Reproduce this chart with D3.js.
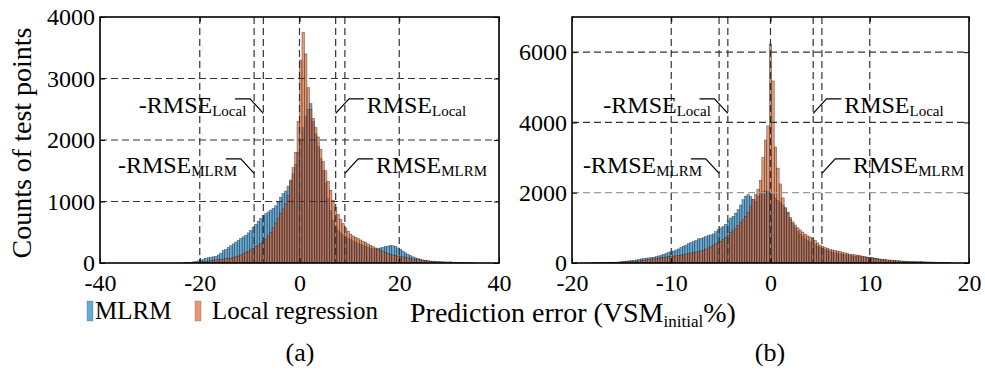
<!DOCTYPE html>
<html><head><meta charset="utf-8">
<script src="https://cdn.jsdelivr.net/npm/d3@7"></script>
<style>
body{margin:0;background:#fff;}
svg{display:block;}
text{font-family:"Liberation Serif","Tinos","Times New Roman";fill:#000;}
</style>
</head><body>
<svg id="chart" width="985" height="370"></svg>
<script>
// ---------- Panel (a) data: bins of 0.5 starting at -24 ----------
const binStartA = -24, binWidthA = 0.5;
const mlrmA = [0,2,5,8,12,18,25,35,
45,60,75,85,95,100,110,130,
160,200,220,250,280,310,340,370,
400,425,450,490,530,580,630,680,
720,770,800,830,860,890,930,990,
1070,1130,1170,1250,1330,1450,1600,1800,
2000,2200,2380,2500,2590,2300,2100,1900,
1700,1500,1300,1050,850,700,600,530,
490,460,430,400,380,360,340,320,
300,285,270,255,240,235,230,235,
245,255,265,275,285,280,265,245,
225,195,165,140,120,100,85,70,
60,50,42,35,28,22,15,10,
6,4,2,1,0,0,0,0,
0,0,0,0,0,0,0,0];
const localA = [0,0,2,3,5,6,8,10,
15,20,25,30,38,45,50,55,
60,65,70,75,80,90,100,115,
130,150,170,190,215,240,265,290,
320,355,390,440,500,570,650,730,
810,880,960,1100,1350,1550,1800,2300,
3300,3750,3400,2850,2500,2350,2200,2050,
1850,1650,1500,1330,1180,1020,900,790,
710,640,570,520,470,440,415,395,
375,355,335,310,285,265,245,225,
205,185,170,155,140,130,120,112,
105,98,90,82,75,68,60,55,
50,45,40,36,32,30,27,25,
22,20,18,16,20,14,12,10,
8,6,5,4,3,2,1,0];
const xTicksA = [-40,-20,0,20,40];
const yTicksA = [0,1000,2000,3000,4000];
const xGridA = [-20,0,20];
const yGridA = [1000,2000,3000];
const rmseLocalA = 7.25, rmseMlrmA = 9.1;

// ---------- Panel (b) data: bins of 0.25 centred from -18 ----------
const binCenterStartB = -18, binWidthB = 0.25;
const mlrmB = [0,0,2,3, 4,5,6,8, 10,14,18,25, 35,45,55,60,
65,75,85,100, 115,125,135,145, 150,162,180,200, 225,245,270,300,
323,340,370,400, 440,480,510,550, 580,610,650,690, 700,720,750,780,
800,830,890,950, 1000,1040,1100,1200, 1280,1330,1420,1520, 1650,1800,1900,1950,
1890,1800,1750,1900, 2000,2030,2050,2030,
2000,1950,1850,1780, 1720,1650,1550,1450, 1250,1120,1000,900, 820,750,690,640,
600,560,520,480, 440,410,380,355, 330,310,290,275, 260,245,232,220,
210,200,192,185, 178,172,168,165, 160,150,138,125, 112,100,90,80,
72,65,58,52, 46,42,38,34, 30,27,24,21, 18,15,12,10,
8,6,4,3, 2,1,0,0, 0];
const localB = [5,8,10,12, 14,15,16,18, 20,22,24,26, 28,30,33,36,
45,50,56,63, 70,80,90,100, 110,120,130,140, 150,160,170,178,
185,195,205,215, 225,240,255,268, 285,300,315,330, 345,365,395,430,
460,500,540,580, 620,670,720,790, 860,920,990,1070, 1150,1230,1330,1440,
1600,1800,1950,2100, 2350,3000,3500,3900,
6230,5180,3300,2700, 2250,1850,1580,1420, 1300,1170,1080,1000, 940,880,820,770,
740,705,640,570, 510,470,440,415, 390,370,355,340, 323,305,285,265,
250,240,232,225, 210,195,180,165, 150,138,128,118, 110,102,95,90,
85,80,74,68, 62,57,52,48, 44,42,40,38, 38,36,33,30,
28,26,24,22, 20,18,15,12, 8];
const xTicksB = [-20,-10,0,10,20];
const yTicksB = [0,2000,4000,6000];
const xGridB = [-10,0,10];
const yGridB = [2000,4000,6000];
const rmseLocalB = 4.3, rmseMlrmB = 5.18;

// ---------- text ----------
const yTitle = "Counts of test points";
const legendLabels = ["MLRM","Local regression"];
const panelLabels = ["(a)","(b)"];

const FONT = '"Liberation Serif","Tinos","Times New Roman"';
const BLUE = "#0072BD", ORANGE = "#D95319";
const svg = d3.select("#chart");
const TOP = 17, BOTTOM = 263;

function drawPanel(o){
  const x = d3.scaleLinear().domain(o.xDom).range([o.x0, o.x1]);
  const y = d3.scaleLinear().domain(o.yDom).range([BOTTOM, TOP]);
  const g = svg.append("g");
  const cid = "clip" + o.id;
  svg.append("defs").append("clipPath").attr("id", cid)
    .append("rect").attr("x", o.x0).attr("y", TOP).attr("width", o.x1 - o.x0).attr("height", BOTTOM - TOP);
  const bars = g.append("g").attr("clip-path", `url(#${cid})`);
  const series = [{vals:o.mlrm, c:BLUE},{vals:o.local, c:ORANGE}];
  series.forEach(s=>{
    bars.append("g").selectAll("rect").data(s.vals).join("rect")
      .attr("x",(d,i)=>x(o.lefts(i)))
      .attr("width",(d,i)=>x(o.lefts(i)+o.bw)-x(o.lefts(i)))
      .attr("y",d=>y(d))
      .attr("height",d=>y(0)-y(d))
      .attr("fill",s.c).attr("fill-opacity",0.6)
      .attr("stroke","#262626").attr("stroke-width",0.5).attr("stroke-opacity",0.75);
  });
  // grid
  const grid = g.append("g").attr("fill","none").attr("stroke-width",1.2).attr("stroke-dasharray","7,4");
  grid.selectAll(".hy").data(o.yGrid).join("line")
    .attr("x1",o.x0).attr("x2",o.x1).attr("y1",d=>y(d)).attr("y2",d=>y(d))
    .attr("stroke",d=>d===o.lightY?"#9a9a9a":"#333");
  const vlines = o.xGrid.concat([-o.rl,-o.rm,o.rl,o.rm]);
  grid.selectAll(".vx").data(vlines).join("line")
    .attr("x1",d=>x(d)).attr("x2",d=>x(d)).attr("y1",TOP).attr("y2",BOTTOM)
    .attr("stroke","#333");
  // axes with inner ticks
  const fmt = d=>String(d);
  const ax = (gen, tr)=> {
    const a = g.append("g").attr("transform",tr).call(gen);
    a.attr("font-family",null);
    a.select(".domain").remove();
    a.selectAll("line").attr("stroke","#000").attr("stroke-width",1);
    a.selectAll("text").style("font-size","24px").style("font-family",FONT);
    return a;
  };
  ax(d3.axisBottom(x).tickValues(o.xTicks).tickSize(-5).tickPadding(11).tickFormat(fmt), `translate(0,${BOTTOM})`);
  ax(d3.axisTop(x).tickValues(o.xTicks).tickSize(-5).tickFormat(""), `translate(0,${TOP})`);
  ax(d3.axisLeft(y).tickValues(o.yTicks).tickSize(-5).tickPadding(5).tickFormat(fmt), `translate(${o.x0},0)`);
  ax(d3.axisRight(y).tickValues(o.yTicks).tickSize(-5).tickFormat(""), `translate(${o.x1},0)`);
  // frame
  g.append("rect").attr("x",o.x0).attr("y",TOP).attr("width",o.x1-o.x0).attr("height",BOTTOM-TOP)
    .attr("fill","none").attr("stroke","#000").attr("stroke-width",1.6);
  // annotations
  const ann = g.append("g");
  const levels = [{v:o.rl, yb:113.3, sub:"Local"},{v:o.rm, yb:173.3, sub:"MLRM"}];
  levels.forEach(L=>{
    [-1,1].forEach(side=>{
      const xb = x(side*L.v);
      const pts = [[xb,L.yb],[xb+side*13.3,L.yb-14.5],[xb+side*28.3,L.yb-14.5]];
      ann.append("path").attr("d",d3.line()(pts)).attr("fill","none").attr("stroke","#000").attr("stroke-width",1.2);
      const t = ann.append("text").style("font-size","24px")
        .attr("x", side<0 ? xb-17 : xb+31).attr("y", L.yb)
        .attr("text-anchor", side<0 ? "end" : "start");
      t.append("tspan").text(side<0 ? "-RMSE" : "RMSE");
      t.append("tspan").attr("dy",3).style("font-size","15px").text(L.sub);
    });
  });
  return {x,y};
}

drawPanel({id:"a", x0:100, x1:499, xDom:[-40,40], yDom:[0,4000],
  xTicks:xTicksA, yTicks:yTicksA, xGrid:xGridA, yGrid:yGridA,
  lefts:i=>binStartA+i*binWidthA, bw:binWidthA, mlrm:mlrmA, local:localA,
  rl:rmseLocalA, rm:rmseMlrmA, lightY:null});
drawPanel({id:"b", x0:572, x1:969, xDom:[-20,20], yDom:[0,7000],
  xTicks:xTicksB, yTicks:yTicksB, xGrid:xGridB, yGrid:yGridB,
  lefts:i=>binCenterStartB+i*binWidthB-binWidthB/2, bw:binWidthB, mlrm:mlrmB, local:localB,
  rl:rmseLocalB, rm:rmseMlrmB, lightY:2000});

// y title
svg.append("text").attr("transform","translate(31,143) rotate(-90)")
  .attr("text-anchor","middle").style("font-size","28px").text(yTitle);

// legend
const leg = svg.append("g");
[[87,BLUE,95],[195,ORANGE,212]].forEach((d,i)=>{
  leg.append("rect").attr("x",d[0]).attr("y",301).attr("width",6).attr("height",20)
    .attr("fill",d[1]).attr("fill-opacity",0.6).attr("stroke","#262626").attr("stroke-width",0.5).attr("stroke-opacity",0.4);
  leg.append("text").attr("x",d[2]).attr("y",319).style("font-size","25px").text(legendLabels[i]);
});

// x title
const xt = svg.append("text").attr("x",410).attr("y",322).style("font-size","28px");
xt.append("tspan").text("Prediction error (VSM");
xt.append("tspan").attr("dy",5).style("font-size","17px").text("initial");
xt.append("tspan").attr("dy",-5).text("%)");

// panel labels
svg.append("text").attr("x",300).attr("y",361).attr("text-anchor","middle").style("font-size","26px").text(panelLabels[0]);
svg.append("text").attr("x",770).attr("y",361).attr("text-anchor","middle").style("font-size","26px").text(panelLabels[1]);
</script>
</body></html>
